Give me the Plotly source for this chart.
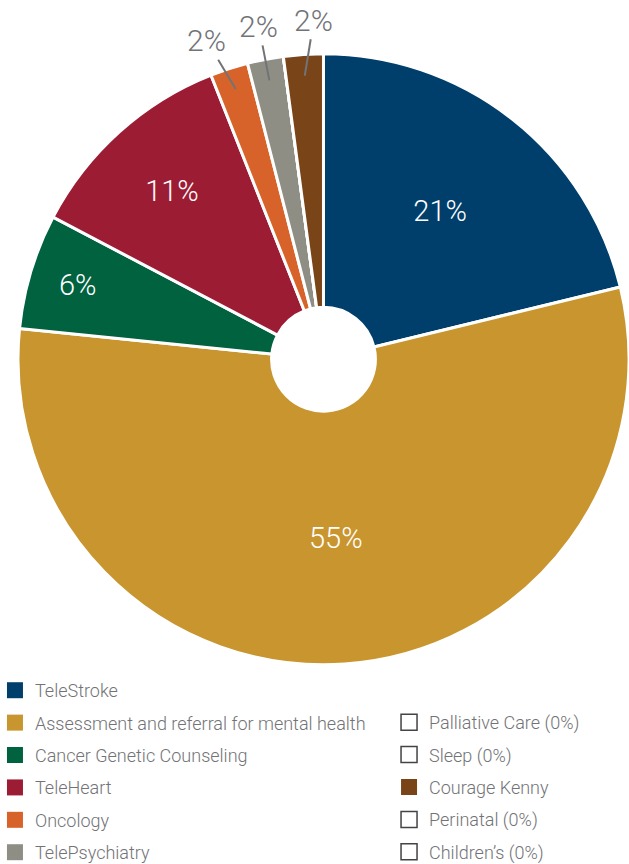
import math
import plotly.graph_objects as go

labels = ["TeleStroke", "Assessment and referral for mental health", "Cancer Genetic Counseling",
          "TeleHeart", "Oncology", "TelePsychiatry", "Palliative Care (0%)", "Sleep (0%)",
          "Courage Kenny", "Perinatal (0%)", "Children\u2019s (0%)"]
values = [21.2, 55.4, 6.1, 11.3, 2.0, 1.9, 0, 0, 2.1, 0, 0]
colors = ["#003e6b", "#c9952e", "#00623f", "#9c1c34", "#d8632a", "#8e8e85", "#ffffff", "#ffffff",
          "#7a4419", "#ffffff", "#ffffff"]
legend_col = [1, 1, 1, 1, 1, 1, 2, 2, 2, 2, 2]

FONT = "Roboto, sans-serif"
GRAY = "#727376"
W, H = 629, 864
DOM_X = [0.0286, 1.0]
DOM_Y = [0.2306, 0.9378]

textpos = ["inside" if v >= 5 else "none" for v in values]
ttemp = ["%{percent:.0%}" if v >= 5 else "" for v in values]

fig = go.Figure()
fig.add_trace(go.Pie(
    labels=labels, values=values, sort=False, direction="clockwise", rotation=0,
    hole=0.17,
    marker=dict(colors=colors, line=dict(color="white", width=3)),
    textposition=textpos, texttemplate=ttemp,
    insidetextorientation="horizontal",
    insidetextfont=dict(color="white", size=29, family=FONT, weight=300),
    showlegend=False,
    domain=dict(x=DOM_X, y=DOM_Y),
))

# leader-line labels for the small slices, placed from the pie's own geometry
total = sum(values)
cx = (DOM_X[0] + DOM_X[1]) / 2
cy = (DOM_Y[0] + DOM_Y[1]) / 2
R = min((DOM_X[1] - DOM_X[0]) * W, (DOM_Y[1] - DOM_Y[0]) * H) / 2
mids = []
cum = 0.0
for v in values:
    if 0 < v < 5:
        mids.append((v, 2 * math.pi * (cum + v / 2) / total))
    cum += v
centre_angle = sum(t for _, t in mids) / len(mids)
for v, theta in mids:
    label_theta = centre_angle + 1.3 * (theta - centre_angle)  # spread labels a little
    rp, rt = 0.93 * R, 1.11 * R
    px = cx + rp * math.sin(theta) / W
    py = cy + rp * math.cos(theta) / H
    tx = rt * math.sin(label_theta) - rp * math.sin(theta)
    ty = -(rt * math.cos(label_theta) - rp * math.cos(theta))
    fig.add_annotation(
        x=px, y=py, xref="paper", yref="paper",
        text=f"{round(100 * v / total)}%", showarrow=True, arrowhead=0,
        arrowwidth=2, arrowcolor=GRAY, standoff=0,
        ax=tx, ay=ty, axref="pixel", ayref="pixel",
        font=dict(family=FONT, size=30, color=GRAY, weight=300),
    )

for lab, col, lc, v in zip(labels, colors, legend_col, values):
    fig.add_trace(go.Scatter(
        x=[None], y=[None], mode="markers", name=lab,
        marker=dict(symbol="square", size=18, color=col,
                    line=dict(color="#444444" if v == 0 else col, width=1.5 if v == 0 else 0)),
        legend="legend" if lc == 1 else "legend2",
        legendgroup=lab,
    ))

legend_common = dict(font=dict(family=FONT, size=18, color=GRAY, weight=300),
                     bgcolor="rgba(0,0,0,0)",
                     tracegroupgap=6, itemwidth=30, yanchor="top", xanchor="left")
fig.update_layout(
    width=W, height=H,
    margin=dict(l=0, r=0, t=0, b=0, autoexpand=False),
    paper_bgcolor="white", plot_bgcolor="white",
    xaxis=dict(visible=False), yaxis=dict(visible=False),
    legend=dict(x=-0.008, y=0.2222, **legend_common),
    legend2=dict(x=0.6185, y=0.1852, **legend_common),
)

fig.write_html("out.html", config={"displayModeBar": False},
               post_script="document.body.style.margin='0';document.body.style.overflow='hidden';")
